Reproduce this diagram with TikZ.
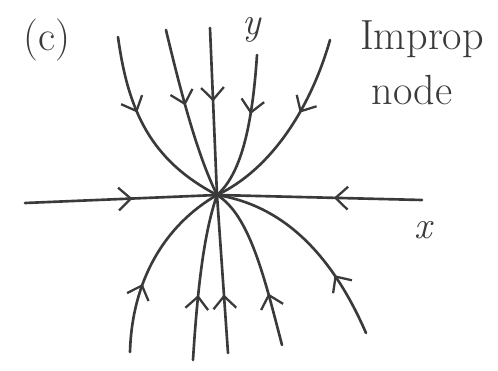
\documentclass[tikz,border=0pt]{standalone}
\usepackage{tikz}
\usetikzlibrary{positioning,arrows.meta,decorations.markings}
\definecolor{ink}{HTML}{3A3A3A}

\begin{document}
\begin{tikzpicture}[
  x=0.02cm,y=-0.02cm,
  traj/.style={draw=ink,color=ink,line width=1.5pt,line cap=round},
  flow/.style={traj,postaction={decorate},decoration={markings,
    mark=at position #1 with {\arrow{Straight Barb[length=7pt,width=13pt,line width=1.3pt]}}}},
  lbl/.style={text=ink,font=\fontsize{24}{28}\selectfont,inner sep=0pt}]
\useasboundingbox (0,0) rectangle (498,371);
% origin and free ends of the trajectories
\coordinate (O) at (217,195);
\coordinate (t1) at (118,37);
\coordinate (t2) at (166,30);
\coordinate (t3) at (210,28);
\coordinate (t4) at (257,55);
\coordinate (t5) at (330,40);
\coordinate (xl) at (25,203);
\coordinate (xr) at (422,200);
\coordinate (b1) at (130,352);
\coordinate (b2) at (193,360);
\coordinate (b3) at (228,353);
\coordinate (b4) at (282,345);
\coordinate (b5) at (366,333);
% labels
\node[lbl] (tag) at (47,40) {(c)};
\node[lbl,font=\fontsize{22}{26}\selectfont\itshape] (ylbl) at (252,30) {y};
\node[lbl,anchor=base] (improp) at (422,50) {Improp};
\node[lbl,anchor=base] (nodelbl) at (412,105) {node};
\node[lbl,font=\fontsize{22}{26}\selectfont\itshape] (xlbl) at (423,230) {x};
% axes
\draw[flow=0.56] (xl) -- (O);
\draw[flow=0.43] (xr) -- (O);
\draw[flow=0.44] (t3) -- (O);
\draw[flow=0.37] (b3) -- (O);
% trajectories above
\draw[flow=0.40] (t1) .. controls (128,110) and (150,160) .. (O);
\draw[flow=0.45] (t2) .. controls (185,110) and (200,160) .. (O);
\draw[flow=0.40] (t4) .. controls (252,130) and (240,175) .. (O);
\draw[flow=0.40] (t5) .. controls (310,110) and (270,170) .. (O);
% trajectories below
\draw[flow=0.37] (b1) .. controls (132,280) and (165,225) .. (O);
\draw[flow=0.39] (b2) .. controls (198,280) and (205,230) .. (O);
\draw[flow=0.32] (b4) .. controls (265,280) and (250,215) .. (O);
\draw[flow=0.31] (b5) .. controls (330,250) and (280,205) .. (O);
\end{tikzpicture}
\end{document}
